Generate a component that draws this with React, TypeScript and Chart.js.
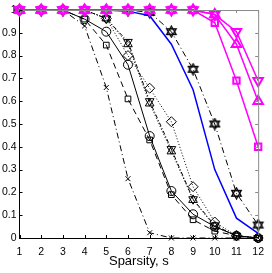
import React, { useEffect, useRef } from "react";
import { Chart, registerables } from "chart.js";
Chart.register(...registerables);

const xValues = [1, 2, 3, 4, 5, 6, 7, 8, 9, 10, 11, 12];
const yTickLabels = ["0", "0.1", "0.2", "0.3", "0.4", "0.5", "0.6", "0.7", "0.8", "0.9", "1"];

const magentaSquare = [1, 1, 1, 1, 1, 1, 1, 1, 1, 0.944, 0.69, 0.4];
const magentaTriUp = [1, 1, 1, 1, 1, 1, 1, 1, 1, 0.98, 0.85, 0.6];
const magentaTriDown = [1, 1, 1, 1, 1, 1, 1, 1, 1, 0.98, 0.905, 0.69];
const blueLine = [1, 1, 1, 1, 1, 0.995, 0.975, 0.85, 0.65, 0.3, 0.087, 0.02];
const hexagramSeries = [1, 1, 1, 1, 1, 1, 0.99, 0.905, 0.74, 0.5, 0.196, 0.057];
const circleSeries = [1, 1, 1, 0.96, 0.905, 0.76, 0.447, 0.206, 0.104, 0.05, 0.01, 0];
const squareSeries = [1, 1, 1, 0.96, 0.846, 0.61, 0.43, 0.19, 0.08, 0.03, 0.01, 0];
const crossSeries = [1, 1, 1, 0.93, 0.66, 0.26, 0.023, 0, 0, 0, 0, 0];
const diamondSeries = [1, 1, 1, 1, 0.963, 0.8, 0.657, 0.51, 0.225, 0.07, 0.01, 0];
const triUpSeries = [1, 1, 1, 1, 0.963, 0.85, 0.59, 0.38, 0.167, 0.05, 0.01, 0];
const triDownSeries = [1, 1, 1, 1, 0.963, 0.86, 0.6, 0.39, 0.17, 0.055, 0.01, 0];

function makeHexagram(color: string, size: number, lw: number) {
  const c = document.createElement("canvas");
  c.width = size;
  c.height = size;
  const ctx = c.getContext("2d")!;
  const cx = size / 2, cy = size / 2, r = size / 2 - 1;
  ctx.strokeStyle = color;
  ctx.lineWidth = lw;
  for (const rot of [-Math.PI / 2, Math.PI / 2]) {
    ctx.beginPath();
    for (let i = 0; i < 3; i++) {
      const a = rot + (i * 2 * Math.PI) / 3;
      const px = cx + r * Math.cos(a), py = cy + r * Math.sin(a);
      if (i) ctx.lineTo(px, py);
      else ctx.moveTo(px, py);
    }
    ctx.closePath();
    ctx.stroke();
  }
  return c;
}

const toPts = (arr: number[]) => arr.map((y, i) => ({ x: xValues[i], y }));

const FONT = "'Liberation Sans', Arial, sans-serif";

const boxPlugin = {
  id: "boxPlugin",
  afterDatasetsDraw(chart: any) {
    const { ctx, chartArea } = chart;
    const { left, right, top, bottom } = chartArea;
    const xs = chart.scales.x, ys = chart.scales.y;
    ctx.save();
    ctx.lineWidth = 1;
    ctx.strokeStyle = "#8a8a8a";
    ctx.beginPath();
    ctx.moveTo(left, top + 0.5);
    ctx.lineTo(right + 0.5, top + 0.5);
    ctx.lineTo(right + 0.5, bottom);
    ctx.stroke();
    const L = 3;
    xValues.forEach((v) => {
      const px = Math.round(xs.getPixelForValue(v)) + 0.5;
      ctx.strokeStyle = "#000";
      ctx.beginPath();
      ctx.moveTo(px, bottom);
      ctx.lineTo(px, bottom - L);
      ctx.stroke();
      ctx.strokeStyle = "#8a8a8a";
      ctx.beginPath();
      ctx.moveTo(px, top);
      ctx.lineTo(px, top + L);
      ctx.stroke();
    });
    yTickLabels.forEach((_, i) => {
      const py = Math.round(ys.getPixelForValue(i / 10)) + 0.5;
      ctx.strokeStyle = "#000";
      ctx.beginPath();
      ctx.moveTo(left, py);
      ctx.lineTo(left + L, py);
      ctx.stroke();
      ctx.strokeStyle = "#8a8a8a";
      ctx.beginPath();
      ctx.moveTo(right, py);
      ctx.lineTo(right - L, py);
      ctx.stroke();
    });
    ctx.restore();
  },
};

export default function App() {
  const ref = useRef<HTMLCanvasElement>(null);
  useEffect(() => {
    const hexBlack = makeHexagram("#000", 13, 1.3);
    const black = "#000";
    const mag = "#ff00ff";
    const common = { showLine: true, fill: false, backgroundColor: "rgba(0,0,0,0)", pointRadius: 4.5, tension: 0, clip: false as any };
    const chart = new Chart(ref.current!, {
      type: "scatter",
      data: {
        datasets: [
          { ...common, data: toPts(magentaSquare), borderColor: mag, borderWidth: 1.5, pointStyle: "rect", pointRadius: 4.5, pointBorderWidth: 2 },
          { ...common, data: toPts(magentaTriUp), borderColor: mag, borderWidth: 1.5, pointStyle: "triangle", pointRadius: 5.5, pointBorderWidth: 2 },
          { ...common, data: toPts(magentaTriDown), borderColor: mag, borderWidth: 1.5, pointStyle: "triangle", pointRotation: 180, pointRadius: 5.5, pointBorderWidth: 2 },
          { ...common, data: toPts(blueLine), borderColor: "#0000ff", borderWidth: 1.5, pointRadius: 0 },
          { ...common, data: toPts(hexagramSeries), borderColor: black, borderWidth: 1, borderDash: [6, 3, 1, 3], pointStyle: hexBlack as any },
          { ...common, data: toPts(circleSeries), borderColor: black, borderWidth: 1, pointStyle: "circle", pointRadius: 4.5 },
          { ...common, data: toPts(squareSeries), borderColor: black, borderWidth: 1, borderDash: [6, 4], pointStyle: "rect", pointRadius: 4 },
          { ...common, data: toPts(crossSeries), borderColor: black, borderWidth: 1, borderDash: [6, 3, 1, 3], pointStyle: "crossRot", pointRadius: 3.5 },
          { ...common, data: toPts(diamondSeries), borderColor: black, borderWidth: 1, borderDash: [1, 2], pointStyle: "rectRot", pointRadius: 5 },
          { ...common, data: toPts(triUpSeries), borderColor: black, borderWidth: 1, borderDash: [1, 2], pointStyle: "triangle", pointRadius: 5 },
          { ...common, data: toPts(triDownSeries), borderColor: black, borderWidth: 1, borderDash: [4, 2, 1, 2], pointStyle: "triangle", pointRotation: 180, pointRadius: 5 },
        ] as any,
      },
      options: {
        responsive: false,
        animation: false,
        devicePixelRatio: 1,
        layout: { padding: { top: 10, right: 7, left: 0, bottom: 0 } },
        plugins: { legend: { display: false }, tooltip: { enabled: false } },
        scales: {
          x: {
            type: "linear",
            min: 1,
            max: 12,
            afterBuildTicks: (s: any) => {
              s.ticks = xValues.map((v) => ({ value: v }));
            },
            afterFit: (s: any) => {
              s.height = 35;
            },
            grid: { display: false, drawTicks: false },
            border: { display: true, color: "#000", width: 1 },
            ticks: { color: "#000", font: { family: FONT, size: 10.5 }, padding: 8, maxRotation: 0, autoSkip: false, callback: (v: any) => String(v) },
            title: { display: true, text: "Sparsity, s", color: "#000", font: { family: FONT, size: 13 }, padding: { top: 0, bottom: 4 } },
          },
          y: {
            type: "linear",
            min: 0,
            max: 1,
            afterBuildTicks: (s: any) => {
              s.ticks = yTickLabels.map((_, i) => ({ value: i / 10 }));
            },
            afterFit: (s: any) => {
              s.width = 19.5;
            },
            grid: { display: false, drawTicks: false },
            border: { display: true, color: "#000", width: 1 },
            ticks: { color: "#000", font: { family: FONT, size: 10.5 }, padding: 3, autoSkip: false, callback: (_v: any, i: number) => yTickLabels[i] },
          },
        },
      },
      plugins: [boxPlugin],
    });
    return () => chart.destroy();
  }, []);
  return (
    <div style={{ position: "absolute", left: 0, top: 0, width: 272, height: 273, background: "#fff" }}>
      <canvas ref={ref} width={272} height={273} style={{ width: 272, height: 273 }} />
    </div>
  );
}
